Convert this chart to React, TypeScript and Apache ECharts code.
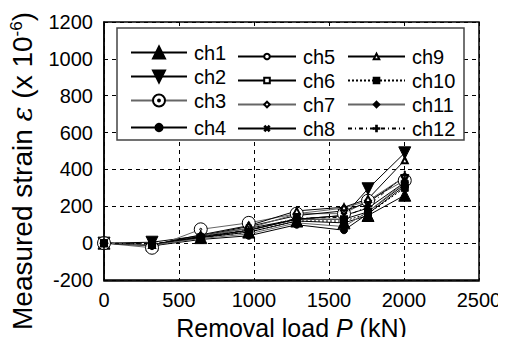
import React, { useEffect, useRef } from "react";
import * as echarts from "echarts";

const loads = [0, 320, 645, 965, 1285, 1600, 1760, 2005];
const channels = ["ch1", "ch2", "ch3", "ch4", "ch5", "ch6", "ch7", "ch8", "ch9", "ch10", "ch11", "ch12"];
const ch1 = [0, -10, 30, 60, 120, 110, 150, 260];
const ch2 = [0, 5, 40, 80, 130, 150, 295, 490];
const ch3 = [0, -25, 75, 110, 160, 160, 230, 340];
const ch4 = [0, -15, 20, 40, 100, 70, 160, 310];
const ch5 = [0, -10, 40, 90, 150, 175, 220, 360];
const ch6 = [0, -10, 30, 70, 130, 130, 170, 320];
const ch7 = [0, -15, 40, 80, 160, 190, 230, 360];
const ch8 = [0, -10, 35, 70, 130, 150, 190, 330];
const ch9 = [0, -10, 45, 95, 175, 195, 240, 450];
const ch10 = [0, -5, 30, 60, 120, 120, 160, 300];
const ch11 = [0, -10, 25, 50, 110, 90, 170, 330];
const ch12 = [0, -5, 35, 70, 135, 140, 200, 370];
const values = [ch1, ch2, ch3, ch4, ch5, ch6, ch7, ch8, ch9, ch10, ch11, ch12];
const xTicks = [0, 500, 1000, 1500, 2000, 2500];
const yTicks = [-200, 0, 200, 400, 600, 800, 1000, 1200];

const FONT = "'Liberation Sans', Arial, Helvetica, sans-serif";
const PLUS = "path://M-0.6,-5 H0.6 V-0.6 H5 V0.6 H0.6 V5 H-0.6 V0.6 H-5 V-0.6 H-0.6 Z";
const DOTCIRCLE =
  "path://M0,-10 A10,10 0 1,1 0,10 A10,10 0 1,1 0,-10 Z M0,-1.6 A1.6,1.6 0 1,1 0,1.6 A1.6,1.6 0 1,1 0,-1.6 Z";

type Sty = {
  symbol: string;
  size: number;
  rotate?: number;
  fill: string;
  border?: string;
  lineColor: string;
  lineType?: any;
};

const styles: Sty[] = [
  { symbol: "triangle", size: 12, fill: "#000", lineColor: "#000" },
  { symbol: "triangle", size: 12, rotate: 180, fill: "#000", lineColor: "#000" },
  { symbol: DOTCIRCLE, size: 13, fill: "#fff", border: "#000", lineColor: "#666" },
  { symbol: "circle", size: 7, fill: "#000", lineColor: "#000" },
  { symbol: "emptyCircle", size: 5, fill: "#000", lineColor: "#000" },
  { symbol: "emptyRect", size: 6, fill: "#000", lineColor: "#000" },
  { symbol: "emptyDiamond", size: 6, fill: "#000", lineColor: "#666" },
  { symbol: PLUS, size: 7, rotate: 45, fill: "#000", lineColor: "#000" },
  { symbol: "emptyTriangle", size: 6, fill: "#000", lineColor: "#000" },
  { symbol: "rect", size: 7, fill: "#000", lineColor: "#000", lineType: [2, 2] },
  { symbol: "diamond", size: 7, fill: "#000", lineColor: "#666" },
  { symbol: PLUS, size: 8, fill: "#000", lineColor: "#000", lineType: [4, 3, 1, 3] },
];

const colX = [130, 237, 347];
const rowY = [50, 74, 98, 122];
const colW = [56, 58, 57];

export default function App() {
  const ref = useRef<HTMLDivElement>(null);
  useEffect(() => {
    if (!ref.current) return;
    const chart = echarts.init(ref.current, undefined, { renderer: "svg" });
    const series = channels.map((name, i) => {
      const s = styles[i];
      return {
        name,
        type: "line",
        data: loads.map((x, j) => [x, values[i][j]]),
        symbol: s.symbol,
        symbolSize: s.size,
        symbolRotate: s.rotate || 0,
        showAllSymbol: true,
        z: 3,
        itemStyle: { color: s.fill, borderColor: s.border || s.fill, borderWidth: 1 },
        lineStyle: { color: s.lineColor, width: 1, type: s.lineType || "solid" },
        emphasis: { disabled: true },
      };
    });
    const legends = channels.map((name, i) => {
      const col = Math.floor(i / 4);
      const row = i % 4;
      const big = i < 3;
      const h = big ? 15 : i === 3 ? 9 : 7;
      return {
        data: [name],
        left: colX[col],
        top: rowY[row] - h / 2,
        padding: 0,
        itemWidth: colW[col],
        itemHeight: h,
        itemGap: 0,
        selectedMode: false,
        textStyle: { fontSize: 20, color: "#000", fontFamily: FONT, padding: [0, 0, 0, 2] },
        z: 10,
      };
    });
    chart.setOption({
      animation: false,
      backgroundColor: "#fff",
      textStyle: { fontFamily: FONT },
      grid: { left: 104, right: 27, top: 22, bottom: 64 },
      xAxis: {
        type: "value",
        min: xTicks[0],
        max: xTicks[xTicks.length - 1],
        interval: 500,
        name: "Removal load {i|P} (kN)",
        nameLocation: "middle",
        nameGap: 35,
        nameTextStyle: {
          fontSize: 25,
          color: "#000",
          fontFamily: FONT,
          rich: { i: { fontSize: 25, fontStyle: "italic", fontFamily: FONT, color: "#000" } },
        },
        axisLine: { show: true, onZero: false, lineStyle: { color: "#000", width: 1.5 } },
        axisTick: { show: false },
        axisLabel: { fontSize: 20, color: "#000", margin: 10, fontFamily: FONT, formatter: (v: number) => String(v) },
        splitLine: { show: true, lineStyle: { color: "#000", type: [4, 4], width: 1 } },
      },
      yAxis: {
        type: "value",
        min: yTicks[0],
        max: yTicks[yTicks.length - 1],
        interval: 200,
        axisLine: { show: true, onZero: false, lineStyle: { color: "#000", width: 1.5 } },
        axisTick: { show: false },
        axisLabel: { fontSize: 20, color: "#000", margin: 11, fontFamily: FONT, formatter: (v: number) => String(v) },
        splitLine: { show: true, lineStyle: { color: "#000", type: [4, 4], width: 1 } },
      },
      legend: legends,
      graphic: [
        {
          type: "rect",
          z: 5,
          shape: { x: 104, y: 22, width: 375, height: 259 },
          style: { fill: "none", stroke: "#000", lineWidth: 1.5 },
          silent: true,
        },
        {
          type: "rect",
          z: 6,
          shape: { x: 117, y: 28, width: 347, height: 112 },
          style: { fill: "#fff", stroke: "#444", lineWidth: 1.5 },
          silent: true,
        },
        {
          type: "text",
          z: 6,
          x: 22,
          y: 171,
          rotation: Math.PI / 2,
          style: {
            text: "Measured strain {e|ε} (x 10{s|-6})",
            fontSize: 28,
            fontFamily: FONT,
            fill: "#000",
            align: "center",
            verticalAlign: "middle",
            rich: {
              e: { fontSize: 28, fontStyle: "italic", fontFamily: "'DejaVu Serif', serif", fill: "#000" },
              s: { fontSize: 17, fontFamily: FONT, verticalAlign: "top", fill: "#000", padding: [0, 0, 12, 0] },
            },
          },
          silent: true,
        },
      ],
      series,
    });
    return () => chart.dispose();
  }, []);
  return <div ref={ref} style={{ width: 506, height: 345, margin: -8 }} />;
}
